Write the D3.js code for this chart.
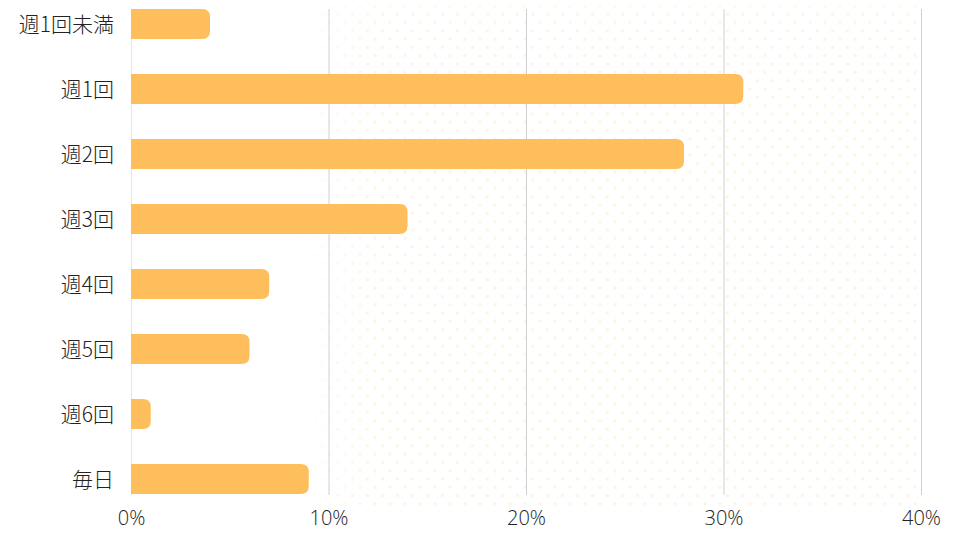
<!DOCTYPE html>
<html>
<head>
<meta charset="utf-8">
<script src="https://cdn.jsdelivr.net/npm/d3@7"></script>
<style>
  body { margin: 0; background: #fff; }
  svg { display: block; font-family: "Noto Sans CJK JP", "Noto Sans", sans-serif; }
</style>
</head>
<body>
<div id="chart"></div>
<script>
// frequency categories and share (%)
var categories = ["週1回未満", "週1回", "週2回", "週3回", "週4回", "週5回", "週6回", "毎日"];
var values = [4, 31, 28, 14, 7, 6, 1, 9];
var ticks = [0, 10, 20, 30, 40];

var width = 960, height = 540;
var left = 131, right = 921;

var svg = d3.select("#chart").append("svg")
  .attr("width", width)
  .attr("height", height);

var x = d3.scaleLinear().domain([0, 40]).range([left, right]);
var y = d3.scalePoint().domain(categories).range([24, 479]);
var barH = 30;

// dotted background
var defs = svg.append("defs");
var pat = defs.append("pattern")
  .attr("id", "dots")
  .attr("patternUnits", "userSpaceOnUse")
  .attr("x", 0).attr("y", 2)
  .attr("width", 15).attr("height", 16.6);
pat.append("circle").attr("cx", 0).attr("cy", 4).attr("r", 1.7).attr("fill", "#fdf5e4");
pat.append("circle").attr("cx", 15).attr("cy", 4).attr("r", 1.7).attr("fill", "#fdf5e4");
pat.append("circle").attr("cx", 7.5).attr("cy", 12.3).attr("r", 1.7).attr("fill", "#fdf5e4");

var grad = defs.append("linearGradient").attr("id", "fade")
  .attr("x1", 0).attr("x2", 1).attr("y1", 0).attr("y2", 0);
grad.append("stop").attr("offset", "0").attr("stop-color", "#fff").attr("stop-opacity", 0);
grad.append("stop").attr("offset", "0.12").attr("stop-color", "#fff").attr("stop-opacity", 1);
grad.append("stop").attr("offset", "1").attr("stop-color", "#fff").attr("stop-opacity", 1);
defs.append("mask").attr("id", "fadeMask")
  .append("rect").attr("x", 295).attr("y", 0).attr("width", 630).attr("height", 520)
  .attr("fill", "url(#fade)");

svg.append("rect")
  .attr("x", 295).attr("y", 6)
  .attr("width", right - 295).attr("height", 500)
  .attr("fill", "url(#dots)")
  .attr("mask", "url(#fadeMask)");

// gridlines
svg.append("g").selectAll("line")
  .data(ticks)
  .join("line")
  .attr("x1", d => x(d) + 0.5).attr("x2", d => x(d) + 0.5)
  .attr("y1", 9).attr("y2", 495)
  .attr("stroke", d => d === 0 ? "#e6e6e6" : "#d0d0d0")
  .attr("stroke-width", 1);

// bars, rounded on the right end
var r = 8;
svg.append("g").selectAll("path")
  .data(values)
  .join("path")
  .attr("fill", "#ffbe5c")
  .attr("d", function(d, i) {
    var x0 = x(0), x1 = x(d), y0 = y(categories[i]) - barH / 2, y1 = y0 + barH;
    var rr = Math.min(r, (x1 - x0) / 2);
    return "M" + x0 + "," + y0 +
      "H" + (x1 - rr) +
      "Q" + x1 + "," + y0 + " " + x1 + "," + (y0 + rr) +
      "V" + (y1 - rr) +
      "Q" + x1 + "," + y1 + " " + (x1 - rr) + "," + y1 +
      "H" + x0 + "Z";
  });

// category labels
svg.append("g").selectAll("text")
  .data(categories)
  .join("text")
  .attr("x", 114)
  .attr("y", d => y(d))
  .attr("dy", "0.36em")
  .attr("text-anchor", "end")
  .attr("font-size", 21)
  .attr("font-weight", 300)
  .attr("fill", "#222")
  .text(d => d);

// x axis tick labels
var xAxis = d3.axisBottom(x).tickValues(ticks).tickFormat(d => d + "%").tickSize(0).tickPadding(0);
var gx = svg.append("g").attr("transform", "translate(0,511)").call(xAxis);
gx.select(".domain").remove();
gx.selectAll("text")
  .attr("font-family", "'Open Sans', sans-serif")
  .attr("font-weight", 300)
  .attr("font-size", 20)
  .attr("fill", "#222");
</script>
</body>
</html>
